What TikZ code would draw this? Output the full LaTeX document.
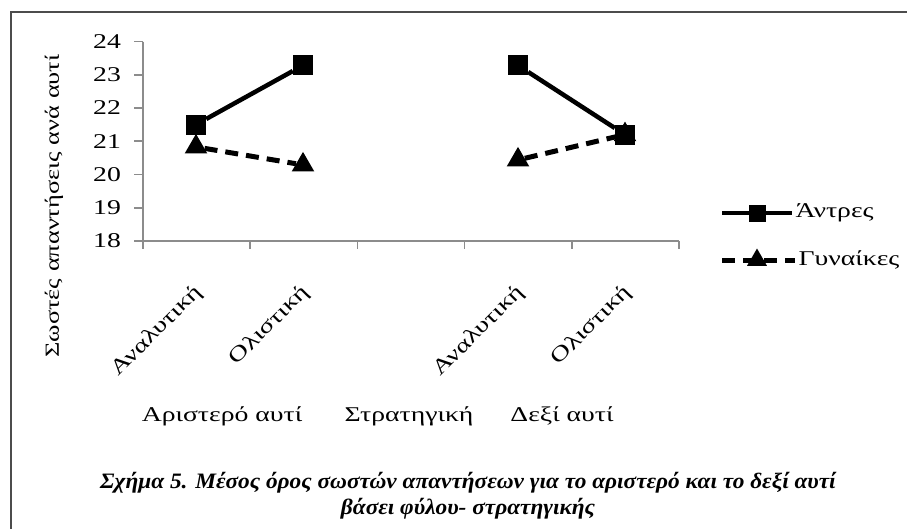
\documentclass[tikz,border=0pt]{standalone}
\usepackage{fontspec}
\setmainfont{Liberation Serif}
\newfontfamily\widefont{Liberation Serif}[FakeStretch=1.32]
\newfontfamily\capfont{Liberation Serif}[FakeStretch=1.06]
\usetikzlibrary{positioning,shapes.geometric}

\begin{document}
\begin{tikzpicture}[x=1pt,y=-1pt,
    font=\widefont\fontsize{21}{25}\selectfont,
    axis/.style={draw=black!45,line width=1.6pt},
    men/.style={line width=4.5pt},
    women/.style={line width=5pt,dash pattern=on 13pt off 8pt},
    sq/.style={rectangle,fill=black,inner sep=0pt,minimum size=20pt},
    tri/.style={regular polygon,regular polygon sides=3,fill=black,inner sep=0pt,minimum size=26pt},
    cat/.style={rotate=45,anchor=east,inner sep=0pt}]
  \useasboundingbox (0,0) rectangle (907,528);
  \draw[black!70,line width=2pt] (11,540) -- (11,12) -- (920,12);
  \coordinate (o) at (143,241);
  \coordinate (yt) at (143,41.5);
  \coordinate (xe) at (679,241);
  \draw[axis] (yt) -- (o) -- (xe);
  \foreach \v in {18,...,24}
    \draw[axis] (143,{241-(\v-18)*33.25}) -- ++(-9,0) node[left=9pt,text=black] {\v};
  \foreach \i in {0,...,5}
    \draw[axis] ({143+\i*107.2},241) -- ++(0,8);
  \foreach \x/\t in {196/Αναλυτική,303/Ολιστική,518/Αναλυτική,625/Ολιστική}
    \node[cat] at (\x+3,289) {\t};
  \node[rotate=90,font=\widefont\fontsize{20}{24}\selectfont] (yl) at (54,206) {Σωστές απαντήσεις ανά αυτί};
  \node (le) at (222,416) {Αριστερό αυτί};
  \node (st) at (409,416) {Στρατηγική};
  \node (ri) at (562,416) {Δεξί αυτί};
  \node[font=\capfont\fontsize{22}{26}\selectfont\bfseries\itshape,align=center] (cap) at (468,496)
    {Σχήμα 5. Μέσος όρος σωστών απαντήσεων για το αριστερό και το δεξί αυτί\\βάσει φύλου- στρατηγικής};
  \node[tri] (g1) at (196,146.9) {};
  \node[tri] (g2) at (303,164.9) {};
  \node[tri] (g4) at (518,159.9) {};
  \node[tri] (g5) at (625,134.6) {};
  \draw[women] (g1) -- (g2);
  \draw[women] (g4) -- (g5);
  \node[sq] (m1) at (196,124.6) {};
  \node[sq] (m2) at (303,65.4) {};
  \node[sq] (m4) at (518,65.4) {};
  \node[sq] (m5) at (625,134.6) {};
  \draw[men] (m1) -- (m2);
  \draw[men] (m4) -- (m5);
  \coordinate (a) at (722,213);
  \coordinate (b) at (792,213);
  \draw[men] (a) -- (b);
  \node[sq,minimum size=17pt] (l1) at (757,213) {};
  \node[right=0pt of b,anchor=west] {Άντρες};
  \coordinate (c) at (722,260);
  \coordinate (d) at (795,260);
  \draw[women] (c) -- (d);
  \node[tri,minimum size=23pt] (l2) at (757,260) {};
  \node[right=0pt of d,anchor=west] {Γυναίκες};
\end{tikzpicture}
\end{document}
